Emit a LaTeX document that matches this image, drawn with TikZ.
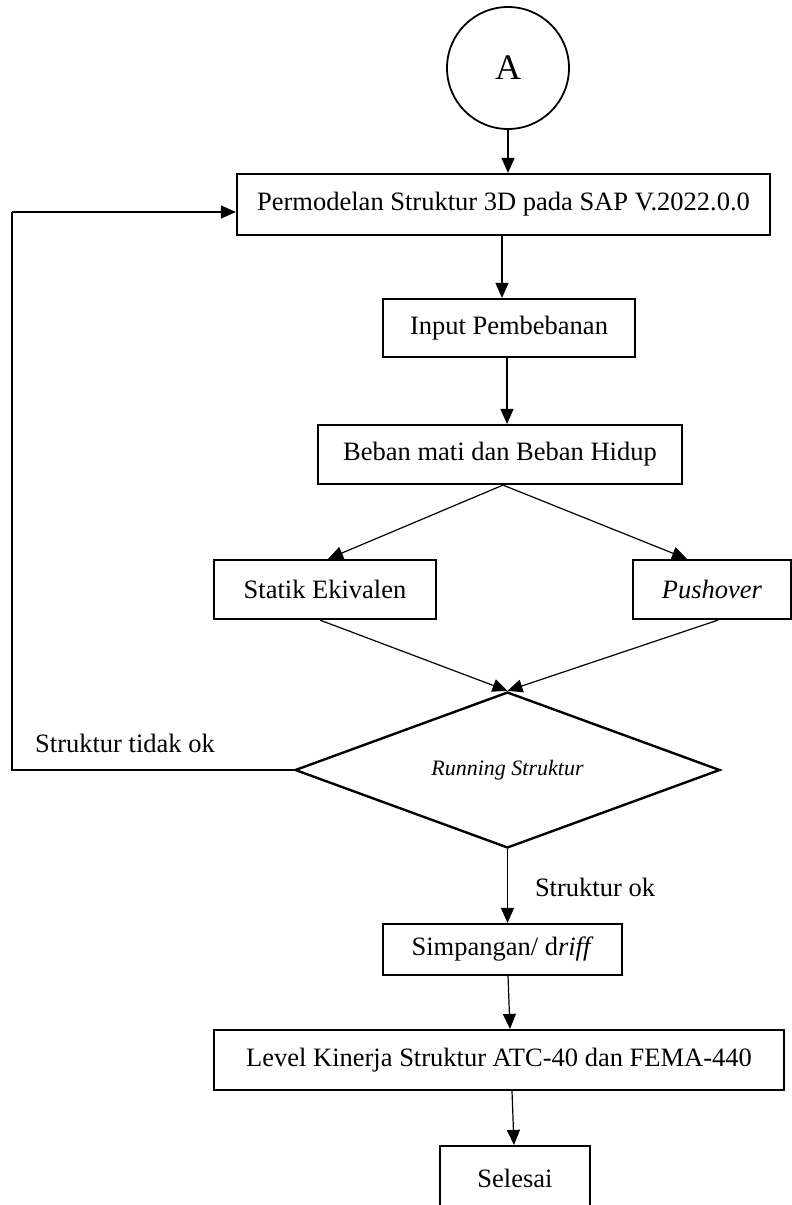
\documentclass[tikz,border=0pt]{standalone}
\usepackage{fontspec}
\setmainfont{Liberation Serif}
\usetikzlibrary{arrows.meta,shapes.geometric,calc}
\begin{document}
\begin{tikzpicture}[x=1pt,y=-1pt,
  boxnode/.style={draw,line width=2.2pt,rectangle,inner sep=0pt,font=\fontsize{26.5}{30}\selectfont},
  conn/.style={line width=1.2pt,-{Triangle[length=15pt,width=13pt]}},
  lbl/.style={inner sep=0pt,font=\fontsize{26.5}{30}\selectfont}]
\useasboundingbox (0,0) rectangle (792,1205);
\node[draw,circle,line width=1.8pt,minimum size=122pt,inner sep=0pt,font=\fontsize{36}{40}\selectfont] (A) at (508,68) {A};
\node[boxnode,minimum width=533pt,minimum height=61pt] (b1) at (503.5,204.5) {Permodelan Struktur 3D pada SAP V.2022.0.0};
\node[boxnode,minimum width=252pt,minimum height=58pt] (b2) at (509,328) {Input Pembebanan};
\node[boxnode,minimum width=364pt,minimum height=59pt] (b3) at (500,454.5) {Beban mati dan Beban Hidup};
\node[boxnode,minimum width=222pt,minimum height=59pt] (st) at (325,589.5) {Statik Ekivalen};
\node[boxnode,minimum width=158pt,minimum height=59pt] (pu) at (712,589.5) {\textit{Pushover}};
\node[draw,diamond,line width=2.4pt,minimum width=425pt,minimum height=156pt,inner sep=0pt,aspect=2.72,font=\fontsize{22}{26}\selectfont] (dm) at (507.5,770) {\textit{Running Struktur}};
\node[boxnode,minimum width=239pt,minimum height=51pt] (sp) at (502.5,949.5) {\raisebox{-3pt}{Simpangan/ d\textit{riff}}};
\node[boxnode,minimum width=570pt,minimum height=60pt] (lv) at (499,1060) {Level Kinerja Struktur ATC-40 dan FEMA-440};
\node[boxnode,minimum width=150pt,minimum height=64pt] (se) at (515,1178) {Selesai};
\node[lbl] (tok) at (125,743) {Struktur tidak ok};
\node[lbl] (ok) at (595,887) {Struktur ok};
\coordinate (c1) at (12,770);
\coordinate (c2) at (12,212);
\coordinate (c3) at (b1.west |- c2);
\coordinate (s1) at ($(b1.south)+(-1.5,0)$);
\coordinate (t1) at (s1 |- b2.north);
\coordinate (s2) at ($(b2.south)+(-2,0)$);
\coordinate (t2) at (s2 |- b3.north);
\draw[conn] (A.south) -- (A.south |- b1.north);
\draw[conn] (s1) -- (t1);
\draw[conn] (s2) -- (t2);
\draw[conn] ($(b3.south)+(3,0)$) -- ($(st.north)+(3,0)$);
\draw[conn] ($(b3.south)+(3,0)$) -- ($(pu.north)+(-25,0)$);
\draw[conn] ($(st.south)+(-5,0)$) -- (dm.north);
\draw[conn] ($(pu.south)+(6,0)$) -- (dm.north);
\draw[conn] (dm.south) -- (dm.south |- sp.north);
\draw[conn] ($(sp.south)+(5.5,0)$) -- ($(lv.north)+(11,0)$);
\draw[conn] ($(lv.south)+(13,0)$) -- ($(se.north)+(-1,0)$);
\draw[line width=1.2pt] (dm.west) -- (c1) -- (c2);
\draw[conn] (c2) -- (c3);
\end{tikzpicture}
\end{document}
